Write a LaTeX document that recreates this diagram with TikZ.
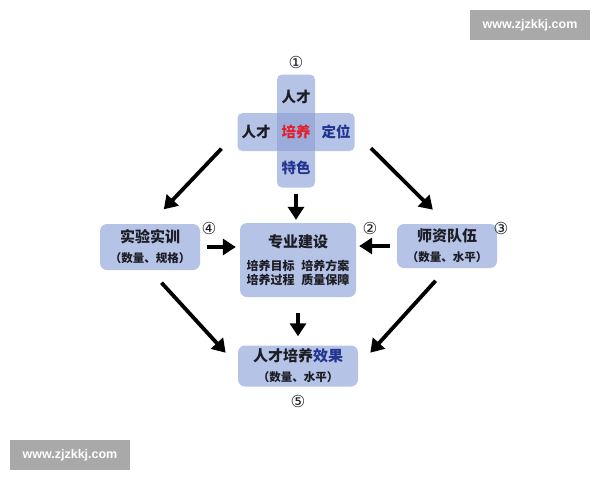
\documentclass[tikz,border=0pt]{standalone}
\usepackage{fontspec}
\usetikzlibrary{arrows.meta,positioning}
\newfontfamily\cjk{Noto Sans CJK SC}
\newfontfamily\wmfont{Liberation Sans}
\newfontfamily\numfont{DejaVu Sans}
\definecolor{PlanFill}{HTML}{B5C3E7}
\definecolor{PlanCore}{HTML}{9BACDA}
\definecolor{PlanInk}{HTML}{1C1C24}
\definecolor{PlanBlue}{HTML}{22348F}
\definecolor{PlanRed}{HTML}{E0202A}
\definecolor{MarkGray}{HTML}{A9A9A9}
\tikzset{bar/.style={fill=PlanFill,rounded corners=5pt,inner sep=0pt},
plan/.style={fill=PlanFill,rounded corners=7pt,align=center,inner sep=0pt,
text=PlanInk,font=\cjk\bfseries\fontsize{15}{20}\selectfont},
word/.style={font=\cjk\bfseries\fontsize{14.5}{16}\selectfont,text=PlanInk,inner sep=0pt},
num/.style={font=\numfont\fontsize{16.5}{17}\selectfont,text=PlanInk,inner sep=0pt},
flow/.style={-{Triangle[length=13pt,width=16pt]},line width=3.8pt,draw=black},
sitemark/.style={fill=MarkGray,text=white,font=\wmfont\bfseries\fontsize{12.5}{14}\selectfont,
minimum width=120pt,minimum height=30pt}}
\newcommand\subline[1]{{\fontsize{11.5}{13}\selectfont #1}}

\begin{document}
\begin{tikzpicture}[x=1pt,y=-1pt]
\useasboundingbox[fill=white](0,0) rectangle (600,480);
% cross of goals
\node[bar,minimum width=38pt,minimum height=113pt](vbar)at(296,131){};
\node[bar,minimum width=117pt,minimum height=38pt](hbar)at(296,132){};
\fill[PlanCore](277,113)rectangle(315,151);
\node[word](top)at(296,97){人才};
\node[word](left)at(256,132){人才};
\node[word,text=PlanRed](mid)at(296,132){培养};
\node[word,text=PlanBlue](right)at(336,132){定位};
\node[word,text=PlanBlue](bot)at(296,168){特色};
\node[num](n1)at(296,62){①};
% boxes
\node[plan,minimum width=100pt,minimum height=46pt](lab)at(150,247)
{实验实训\\\subline{（数量、规格）}};
\node[plan,minimum width=116pt,minimum height=74pt,font=\cjk\bfseries\fontsize{15}{14}\selectfont](ctr)at(298,260)
{专业建设\\[9pt]{\fontsize{12}{14}\selectfont 培养目标\hspace{7pt}培养方案}\\{\fontsize{12}{14}\selectfont 培养过程\hspace{7pt}质量保障}};
\node[plan,minimum width=100pt,minimum height=44pt](staff)at(447,246)
{师资队伍\\\subline{（数量、水平）}};
\node[plan,minimum width=120pt,minimum height=41pt](res)at(298,366)
{人才培养\textcolor{PlanBlue}{效果}\\\subline{（数量、水平）}};
\node[num](n2)at(370,228){②};
\node[num](n3)at(501,228){③};
\node[num](n4)at(209,228){④};
\node[num](n5)at(298,401){⑤};
% arrows
\draw[flow,shorten <=23pt,shorten >=20pt](hbar.west)--(lab.north);
\draw[flow,shorten <=23pt,shorten >=20pt](hbar.east)--(staff.north);
\draw[flow,shorten <=17pt,shorten >=18pt](lab.south)--(res.west);
\draw[flow,shorten <=17pt,shorten >=18pt](staff.south)--(res.east);
\draw[flow,shorten <=6pt,shorten >=3pt](vbar.south)--(vbar.south|-ctr.north);
\draw[flow,shorten <=16pt,shorten >=9pt](ctr.south)--(res.north);
\draw[flow,shorten <=7pt,shorten >=4pt](lab.east)--(lab.east-|ctr.west);
\draw[flow,shorten <=7pt,shorten >=3pt](staff.west)--(staff.west-|ctr.east);
% site marks
\node[sitemark](mark1)at(530,25){www.zjzkkj.com};
\node[sitemark](mark2)at(70,455){www.zjzkkj.com};
\end{tikzpicture}
\end{document}
